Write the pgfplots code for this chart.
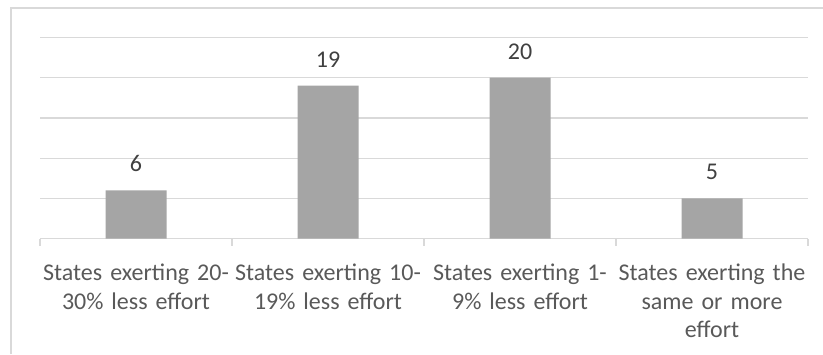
\documentclass[border=0pt]{standalone}
\usepackage{pgfplots}
\pgfplotsset{compat=1.18}
\usepackage{fontspec}
\setmainfont{Carlito}
\definecolor{barc}{HTML}{A5A5A5}
\definecolor{gridc}{HTML}{D9D9D9}
\definecolor{labc}{HTML}{595959}
\definecolor{numc}{HTML}{404040}
\begin{document}
\begin{tikzpicture}[x=1pt,y=1pt]
\useasboundingbox (0,0) rectangle (823,354);
\draw[gridc, line width=1.5pt] (11,0) -- (11,346) -- (823,346);
\begin{axis}[
  at={(40pt,115.5pt)}, anchor=south west,
  scale only axis, width=768pt, height=201pt,
  xmin=0, xmax=4, ymin=0, ymax=25,
  ybar, bar width=61pt,
  /pgf/number format/assume math mode=true,
  axis x line*=bottom, axis y line*=left,
  y axis line style={draw=none},
  x axis line style={gridc, line width=1.2pt},
  ytick={0,5,10,15,20,25}, yticklabels={}, ytick style={draw=none},
  ymajorgrids, grid style={gridc, line width=1.2pt},
  xtick={0.5,1.5,2.5,3.5},
  xticklabels={{States exerting 20-\\30\% less effort}, {States exerting 10-\\19\% less effort}, {States exerting 1-\\9\% less effort}, {States exerting the\\same or more\\effort}},
  major x tick style={draw=none},
  minor xtick={0,1,2,3,4},
  minor tick length=7pt, tick align=outside,
  minor x tick style={gridc, line width=1.2pt},
  xticklabel style={text width=192pt, align=center, anchor=base, yshift=-37.8pt, text=labc, font=\fontsize{24}{28.5}\selectfont},
  nodes near coords,
  every node near coord/.append style={anchor=base, yshift=18.5pt, text=numc, font=\fontsize{24}{28.5}\selectfont},
  clip=false,
]
\addplot[fill=barc, draw=none] coordinates {(0.5,6) (1.5,19) (2.5,20) (3.5,5)};
\end{axis}
\end{tikzpicture}
\end{document}
